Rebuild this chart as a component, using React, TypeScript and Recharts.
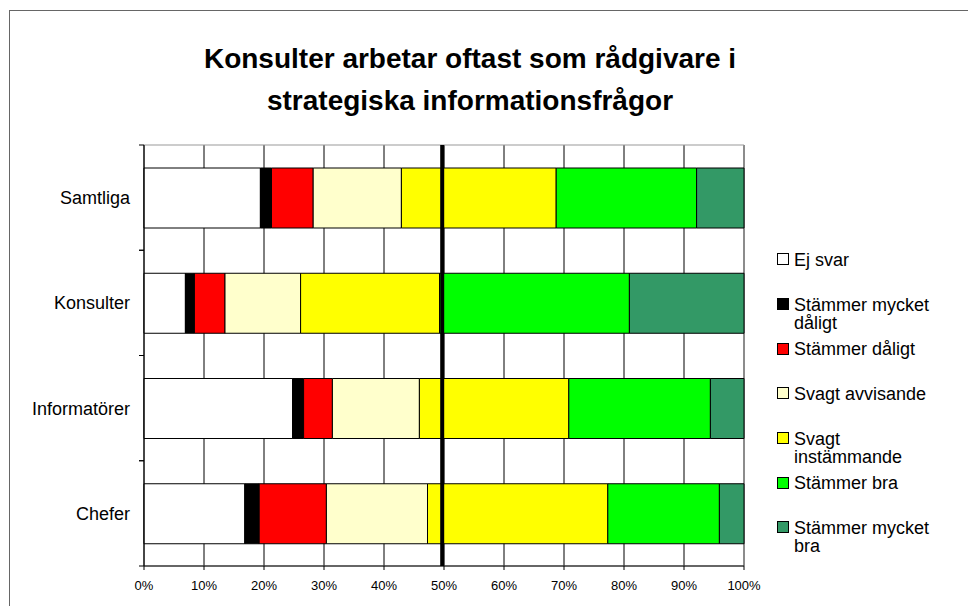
import React from 'react';
import { BarChart, Bar, XAxis, YAxis, CartesianGrid, ReferenceLine, ReferenceArea } from 'recharts';

const categories = ['Samtliga', 'Konsulter', 'Informatörer', 'Chefer'];
const ejSvar = [19.4, 6.9, 24.75, 16.8];
const mycketDaligt = [1.85, 1.5, 1.85, 2.4];
const daligt = [6.95, 5.1, 4.8, 11.2];
const svagtAvvisande = [14.7, 12.6, 14.5, 16.85];
const svagtInstammande = [25.8, 23.15, 24.9, 30.05];
const bra = [23.4, 31.65, 23.6, 18.6];
const mycketBra = [7.9, 19.1, 5.6, 4.1];
const xTicks = [0, 10, 20, 30, 40, 50, 60, 70, 80, 90, 100];

const titleLines = ['Konsulter arbetar oftast som rådgivare i', 'strategiska informationsfrågor'];

const series = [
  { key: 'ejSvar', name: 'Ej svar', values: ejSvar, color: '#FFFFFF' },
  { key: 'mycketDaligt', name: 'Stämmer mycket dåligt', lines: ['Stämmer mycket', 'dåligt'], values: mycketDaligt, color: '#000000' },
  { key: 'daligt', name: 'Stämmer dåligt', values: daligt, color: '#FF0000' },
  { key: 'svagtAvvisande', name: 'Svagt avvisande', values: svagtAvvisande, color: '#FFFFCC' },
  { key: 'svagtInstammande', name: 'Svagt instämmande', lines: ['Svagt', 'instämmande'], values: svagtInstammande, color: '#FFFF00' },
  { key: 'bra', name: 'Stämmer bra', values: bra, color: '#00FF00' },
  { key: 'mycketBra', name: 'Stämmer mycket bra', lines: ['Stämmer mycket', 'bra'], values: mycketBra, color: '#339966' },
];

const data = categories.map((name, i) => {
  const row: any = { name };
  series.forEach((s) => { row[s.key] = s.values[i]; });
  return row;
});

const W = 968;
const H = 606;
const MARGIN = { top: 145, right: 224, bottom: 10, left: 0 };
const Y_WIDTH = 144;
const X_HEIGHT = 30;
const PLOT_H = H - MARGIN.top - MARGIN.bottom - X_HEIGHT;
const HALF_BAND = PLOT_H / categories.length / 2;
const FONT = 'Arial, "Liberation Sans", Helvetica, sans-serif';

const YTick = (props: any) => {
  const { x, y, payload } = props;
  const axisX = x + 14;
  return (
    <g>
      <line x1={axisX - 5} x2={axisX} y1={y - HALF_BAND} y2={y - HALF_BAND} stroke="#000" />
      <line x1={axisX - 5} x2={axisX} y1={y + HALF_BAND} y2={y + HALF_BAND} stroke="#000" />
      <text x={x} y={y} dy="0.36em" textAnchor="end" fontSize={18} fill="#000" fontFamily={FONT}>
        {payload.value}
      </text>
    </g>
  );
};

export default function App() {
  return (
    <div style={{ position: 'absolute', left: 0, top: 0, width: W, height: H, background: '#fff', fontFamily: FONT, overflow: 'hidden' }}>
      <div style={{ position: 'absolute', left: 9, top: 10, width: W, height: H, borderLeft: '1px solid #666', borderTop: '1px solid #666' }} />
      <div style={{ position: 'absolute', left: 0, top: 38, width: 940, textAlign: 'center', fontWeight: 'bold', fontSize: 28, lineHeight: '42px', color: '#000' }}>
        {titleLines.map((l) => <div key={l}>{l}</div>)}
      </div>
      <div style={{ position: 'absolute', left: 0, top: 0 }}>
        <BarChart width={W} height={H} data={data} layout="vertical" margin={MARGIN} barSize={60}>
          <ReferenceArea x1={0} x2={100} fill="none" fillOpacity={0} stroke="#999" strokeWidth={1} />
          <CartesianGrid horizontal={false} vertical={true} stroke="#000" strokeDasharray="" />
          <XAxis
            type="number"
            domain={[0, 100]}
            ticks={xTicks}
            tickFormatter={(v: number) => `${v}%`}
            height={X_HEIGHT}
            axisLine={{ stroke: '#000' }}
            tickLine={{ stroke: '#000' }}
            tickSize={4}
            tickMargin={11}
            tick={{ fontSize: 13, fill: '#000', fontFamily: FONT }}
            interval={0}
          />
          <YAxis
            type="category"
            dataKey="name"
            width={Y_WIDTH}
            axisLine={{ stroke: '#000' }}
            tickLine={false}
            tickSize={6}
            tickMargin={8}
            tick={<YTick />}
            interval={0}
          />
          {series.map((s) => (
            <Bar key={s.key} dataKey={s.key} name={s.name} stackId="a" fill={s.color} stroke="#000" strokeWidth={1} isAnimationActive={false} />
          ))}
          <ReferenceLine x={49.7} stroke="#000" strokeWidth={4} />
        </BarChart>
      </div>
      <div style={{ position: 'absolute', left: 777, top: 251, width: 190 }}>
        {series.map((s) => (
          <div key={s.key} style={{ position: 'relative', height: 44.7, fontSize: 18, lineHeight: '18px', color: '#000' }}>
            <span style={{ position: 'absolute', left: 0, top: 2.3, width: 10, height: 10, border: '1px solid #000', background: s.color }} />
            <div style={{ position: 'absolute', left: 17, top: 0, whiteSpace: 'nowrap' }}>
              {(s.lines || [s.name]).map((l) => <div key={l}>{l}</div>)}
            </div>
          </div>
        ))}
      </div>
    </div>
  );
}
